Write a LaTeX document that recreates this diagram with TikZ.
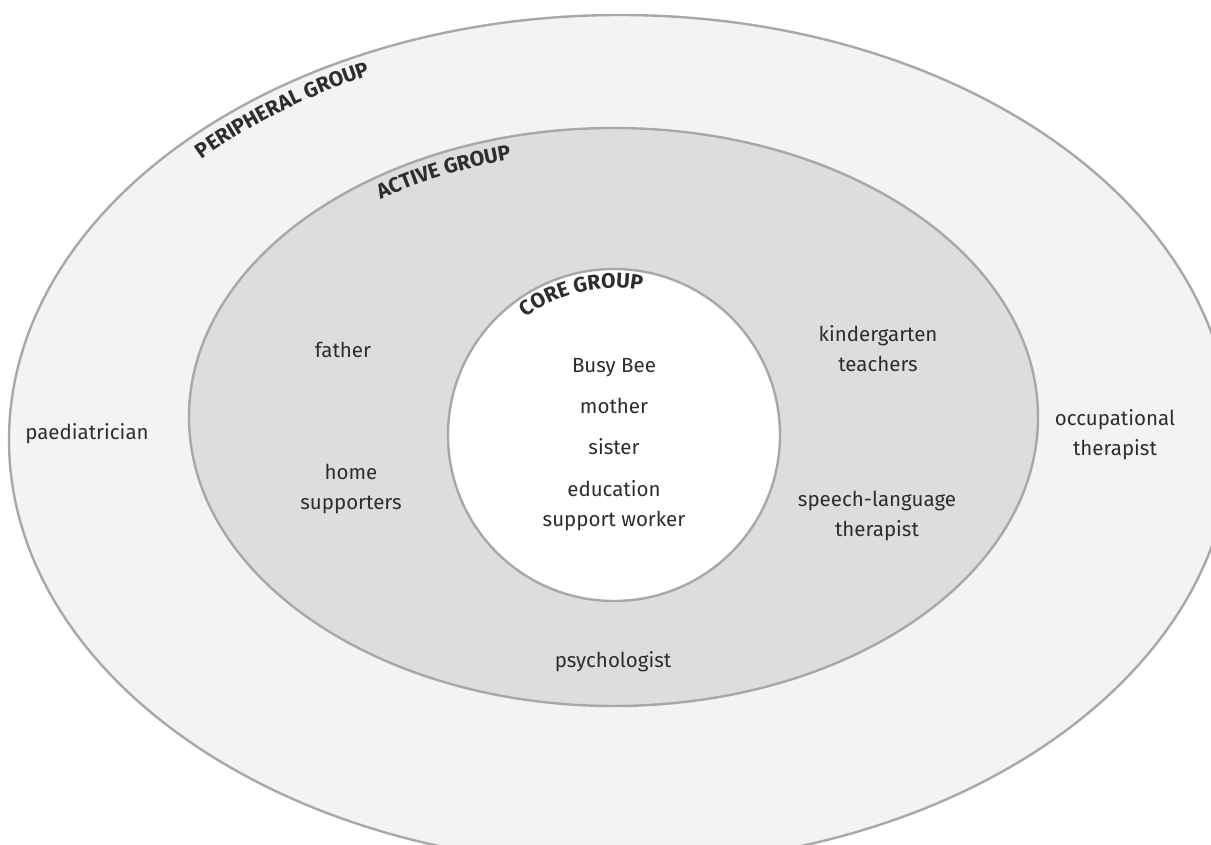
\documentclass[tikz,border=0pt]{standalone}
\usepackage{fontspec}
\setmainfont{Fira Sans}
\usepackage{xcolor}
\usepackage{tikz}
\usetikzlibrary{decorations.text}
\definecolor{ringline}{RGB}{168,168,171}
\definecolor{peripheralfill}{RGB}{242,243,245}
\definecolor{activefill}{RGB}{220,221,223}
\definecolor{textgray}{RGB}{45,45,45}

\begin{document}
\begin{tikzpicture}[x=1pt, y=1pt,
        ring/.style={draw=ringline, line width=2.4pt},
        member/.style={align=center, anchor=base, inner sep=0pt, text=textgray, font=\fontsize{20.5}{30}\selectfont},
        grouplabel/.style={decorate, decoration={text along path, text align=center, text color=textgray,
            text={|\fontsize{21}{22}\selectfont\bfseries|#1}}}
    ]
        \useasboundingbox (0,0) rectangle (1211,844);
        \clip (0,0) rectangle (1211,844);
        % the three groups
        \draw[ring, fill=peripheralfill] (620,404) ellipse[x radius=611, y radius=425];
        \draw[ring, fill=activefill] (613.5,427) ellipse[x radius=424.5, y radius=289];
        \draw[ring, fill=white] (614,409) circle[radius=166];

        % group names along the rings
        \path[grouplabel={PERIPHERAL GROUP}] (620,404) ++(152:582 and 404) arc[start angle=152, end angle=102, x radius=582, y radius=404];
        \path[grouplabel={ACTIVE GROUP}] (613.5,427) ++(141:404 and 266) arc[start angle=141, end angle=91, x radius=404, y radius=266];
        \path[grouplabel={CORE GROUP}] (614,409) ++(129:147) arc[start angle=129, end angle=77, radius=147];

        % core group
        \node[member] (busybee) at (614,471) {Busy Bee};
        \node[member] (mother) at (614,430) {mother};
        \node[member] (sister) at (614,389) {sister};
        \node[member] (esw) at (614,317) {education\\support worker};

        % active group
        \node[member] (father) at (343,486) {father};
        \node[member] (home) at (351,334) {home\\supporters};
        \node[member] (kinder) at (878,472) {kindergarten\\teachers};
        \node[member] (slt) at (877,307) {speech-language\\therapist};
        \node[member] (psych) at (613,176) {psychologist};

        % peripheral group
        \node[member] (paed) at (87,404) {paediatrician};
        \node[member] (ot) at (1115,388) {occupational\\therapist};
    \end{tikzpicture}
\end{document}
